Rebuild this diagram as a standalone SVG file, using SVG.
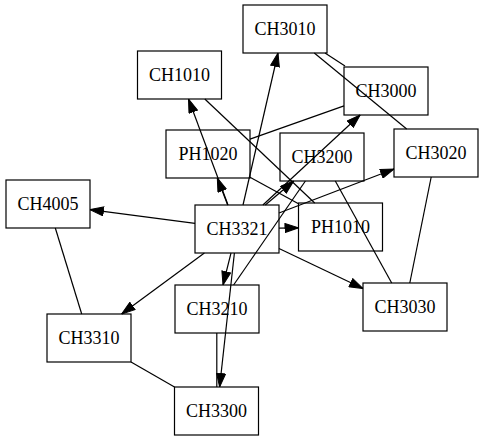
<svg xmlns="http://www.w3.org/2000/svg" width="483" height="441" viewBox="0 0 483 441">
<defs>
<style>
.node rect{fill:none;stroke:#000;stroke-width:1.2}
.node text{font-family:"Liberation Serif","Times New Roman",serif;font-size:18px;fill:#000;text-anchor:middle}
.edges path{fill:none;stroke:#000;stroke-width:1.2}
.edges path.d{marker-end:url(#arr)}
</style>
<marker id="arr" markerUnits="userSpaceOnUse" viewBox="0 0 14 10" markerWidth="14" markerHeight="10" refX="14" refY="5" orient="auto">
<path d="M0.5,0.5 L14,5 L0.5,9.5 z" fill="#000" stroke="#000" stroke-width="1"/>
</marker>
</defs>
<rect width="483" height="441" fill="#fff"/>
<g id="CH3010" class="node"><rect x="243" y="5" width="84" height="48"/><text x="285" y="34.5">CH3010</text></g>
<g id="CH1010" class="node"><rect x="137.5" y="51" width="84" height="48"/><text x="179.5" y="80.5">CH1010</text></g>
<g id="CH3000" class="node"><rect x="344" y="67" width="84" height="48"/><text x="386" y="96.5">CH3000</text></g>
<g id="PH1020" class="node"><rect x="166" y="130" width="84" height="48"/><text x="208" y="159.5">PH1020</text></g>
<g id="CH3200" class="node"><rect x="280" y="133" width="84" height="48"/><text x="322" y="162.5">CH3200</text></g>
<g id="CH3020" class="node"><rect x="394" y="129" width="84" height="48"/><text x="436" y="158.5">CH3020</text></g>
<g id="CH4005" class="node"><rect x="6" y="180" width="84" height="48"/><text x="48" y="209.5">CH4005</text></g>
<g id="CH3321" class="node"><rect x="195" y="205" width="84" height="48"/><text x="237" y="234.5">CH3321</text></g>
<g id="PH1010" class="node"><rect x="298.5" y="203" width="84" height="48"/><text x="340.5" y="232.5">PH1010</text></g>
<g id="CH3210" class="node"><rect x="175" y="285" width="84" height="48"/><text x="217" y="314.5">CH3210</text></g>
<g id="CH3030" class="node"><rect x="363" y="283" width="84" height="48"/><text x="405" y="312.5">CH3030</text></g>
<g id="CH3310" class="node"><rect x="47" y="314" width="84" height="48"/><text x="89" y="343.5">CH3310</text></g>
<g id="CH3300" class="node"><rect x="174.5" y="387" width="84" height="48"/><text x="216.5" y="416.5">CH3300</text></g>
<g id="edges" class="edges">
<path d="M325,53 L345,66"/>
<path d="M314.3,53 L406.7,129"/>
<path d="M204.8,99 L314.7,203"/>
<path d="M344,105.9 L250,139.1"/>
<path d="M250,177.2 L298.5,203.8"/>
<path d="M305.4,181 L233.6,285"/>
<path d="M335.3,181 L391.7,283"/>
<path d="M431.2,177 L409.8,283"/>
<path d="M55.3,228 L81.7,314"/>
<path d="M131,362 L174.5,387"/>
<path d="M216.8,333 L216.8,387"/>
<path class="d" d="M195,223.4 L90,209.6"/>
<path class="d" d="M228,205 L188.5,99"/>
<path class="d" d="M227.7,205 L217.3,178"/>
<path class="d" d="M243,205 L278,53"/>
<path class="d" d="M265.3,205 L293.7,181"/>
<path class="d" d="M262.9,205 L360.1,115"/>
<path class="d" d="M279,213 L394,169"/>
<path class="d" d="M279,228.2 L298.5,227.8"/>
<path class="d" d="M279,248.5 L363,288.5"/>
<path class="d" d="M204.4,253 L121.6,314"/>
<path class="d" d="M231,253 L223,285"/>
<path class="d" d="M234.4,253 L219.6,387"/>
</g>
</svg>
